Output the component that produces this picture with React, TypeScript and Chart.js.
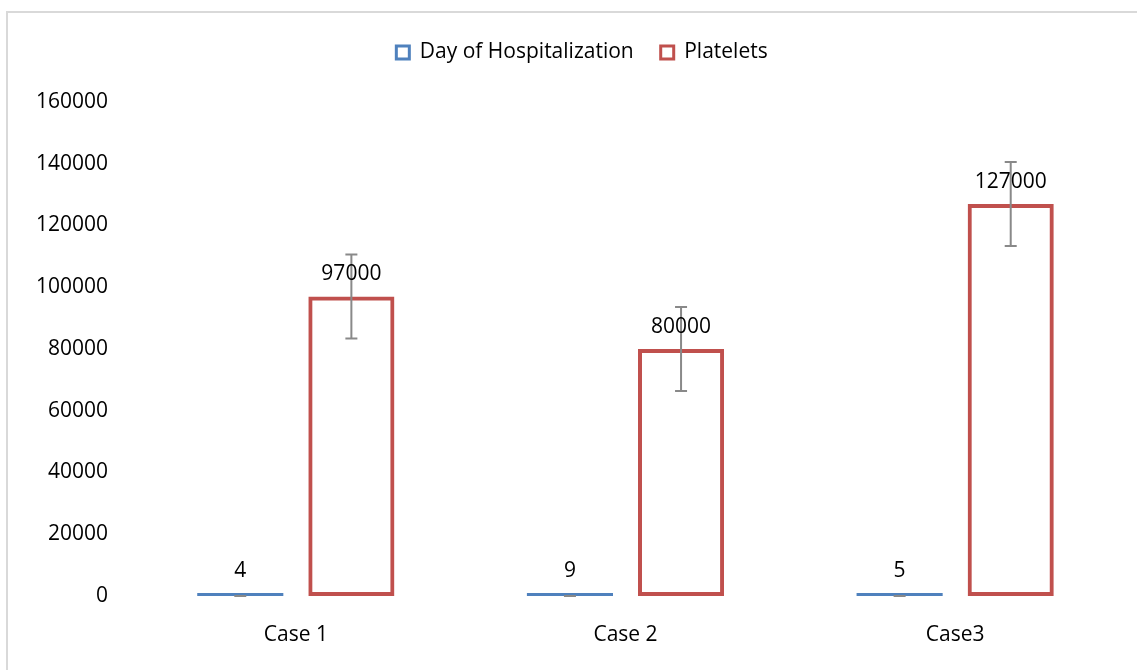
import React, { useEffect, useRef } from "react";
import { Chart, registerables } from "chart.js";

Chart.register(...registerables);

const categories = ["Case 1", "Case 2", "Case3"];
const dayValues = [4, 9, 5];
const plateletValues = [97000, 80000, 127000];
const dayErrors = [0, 0, 0];
const plateletErrors = [13600, 13600, 13600];
const yTicks = { min: 0, max: 160000, step: 20000 };

const FONT = "'Open Sans', sans-serif";
const FONT_SIZE = 21;
const TEXT = "#000000";

const errorBarPlugin = {
  id: "errorBars",
  afterDatasetsDraw(chart: any) {
    const ctx = chart.ctx;
    const yScale = chart.scales.y;
    chart.data.datasets.forEach((ds: any, di: number) => {
      const errs: number[] = ds.errors || [];
      const meta = chart.getDatasetMeta(di);
      meta.data.forEach((el: any, i: number) => {
        const v = ds.data[i];
        const e = errs[i] || 0;
        const x = el.x;
        const yTop = yScale.getPixelForValue(v + e);
        const yBot = yScale.getPixelForValue(v - e);
        ctx.save();
        ctx.strokeStyle = "#898989";
        ctx.lineWidth = 2;
        ctx.beginPath();
        ctx.moveTo(x, yTop);
        ctx.lineTo(x, yBot);
        ctx.moveTo(x - 6, yTop);
        ctx.lineTo(x + 6, yTop);
        ctx.moveTo(x - 6, yBot);
        ctx.lineTo(x + 6, yBot);
        ctx.stroke();
        ctx.restore();
      });
    });
  },
};

const dataLabelPlugin = {
  id: "dataLabels",
  afterDatasetsDraw(chart: any) {
    const ctx = chart.ctx;
    chart.data.datasets.forEach((ds: any, di: number) => {
      const meta = chart.getDatasetMeta(di);
      meta.data.forEach((el: any, i: number) => {
        ctx.save();
        ctx.font = `${FONT_SIZE}px ${FONT}`;
        ctx.fillStyle = TEXT;
        ctx.textAlign = "center";
        ctx.textBaseline = "middle";
        ctx.fillText(String(ds.data[i]), el.x, el.y - 22);
        ctx.restore();
      });
    });
  },
};

// Extra room below the legend, and legend centred over the plot like the original.
const legendSpacePlugin = {
  id: "legendSpace",
  beforeInit(chart: any) {
    const legend = chart.legend;
    if (legend && !legend._spaced) {
      const orig = legend.fit;
      legend.fit = function () {
        orig.call(this);
        this.height += 29;
      };
      legend._spaced = true;
    }
  },
  afterLayout(chart: any) {
    if (chart.legend) {
      chart.legend.left = 44;
    }
  },
};

export default function App() {
  const ref = useRef<HTMLCanvasElement | null>(null);

  useEffect(() => {
    if (!ref.current) return;
    const chart = new Chart(ref.current, {
      type: "bar",
      data: {
        labels: categories,
        datasets: [
          {
            label: "Day of Hospitalization",
            data: dayValues,
            backgroundColor: "#4f81bd",
            borderColor: "#4f81bd",
            borderWidth: 0,
            minBarLength: 3,
            barPercentage: 0.775,
            categoryPercentage: 0.674,
            errors: dayErrors,
          } as any,
          {
            label: "Platelets",
            data: plateletValues,
            backgroundColor: "rgba(255,255,255,0)",
            borderColor: "#c0504d",
            borderWidth: 4,
            borderSkipped: false,
            barPercentage: 0.775,
            categoryPercentage: 0.674,
            errors: plateletErrors,
          } as any,
        ],
      },
      options: {
        responsive: false,
        animation: false,
        layout: { padding: { top: 15, left: 0, right: 17, bottom: 0 } },
        plugins: {
          tooltip: { enabled: false },
          legend: {
            position: "top",
            labels: {
              font: { family: FONT, size: FONT_SIZE },
              color: TEXT,
              boxWidth: 13,
              boxHeight: 13,
              padding: 27,
              generateLabels: (c: any) =>
                c.data.datasets.map((ds: any, i: number) => ({
                  text: ds.label,
                  fillStyle: "#ffffff",
                  strokeStyle: ds.borderColor,
                  lineWidth: 3,
                  hidden: false,
                  datasetIndex: i,
                  fontColor: TEXT,
                })),
            },
          },
        },
        scales: {
          x: {
            grid: { display: false, drawTicks: false },
            border: { display: false },
            ticks: { font: { family: FONT, size: FONT_SIZE }, color: TEXT, padding: 26 },
            afterFit: (s: any) => {
              s.height = 74;
            },
          },
          y: {
            min: yTicks.min,
            max: yTicks.max,
            grid: { display: false, drawTicks: false },
            border: { display: false },
            ticks: {
              stepSize: yTicks.step,
              font: { family: FONT, size: FONT_SIZE },
              color: TEXT,
              padding: 23,
              callback: (v: any) => String(v),
            },
            afterFit: (s: any) => {
              s.width = 131;
            },
          },
        },
      },
      plugins: [errorBarPlugin, dataLabelPlugin, legendSpacePlugin],
    });
    return () => chart.destroy();
  }, []);

  return (
    <div style={{ position: "absolute", left: 0, top: 0, width: 1137, height: 670, background: "#fff" }}>
      <div
        style={{
          position: "absolute",
          left: 6,
          top: 11,
          width: 1137 - 8,
          height: 670 - 13,
          borderTop: "2px solid #d9d9d9",
          borderLeft: "2px solid #d9d9d9",
        }}
      />
      <canvas
        ref={ref}
        width={1137}
        height={670}
        style={{ position: "absolute", left: 0, top: 0, display: "block" }}
      />
    </div>
  );
}
